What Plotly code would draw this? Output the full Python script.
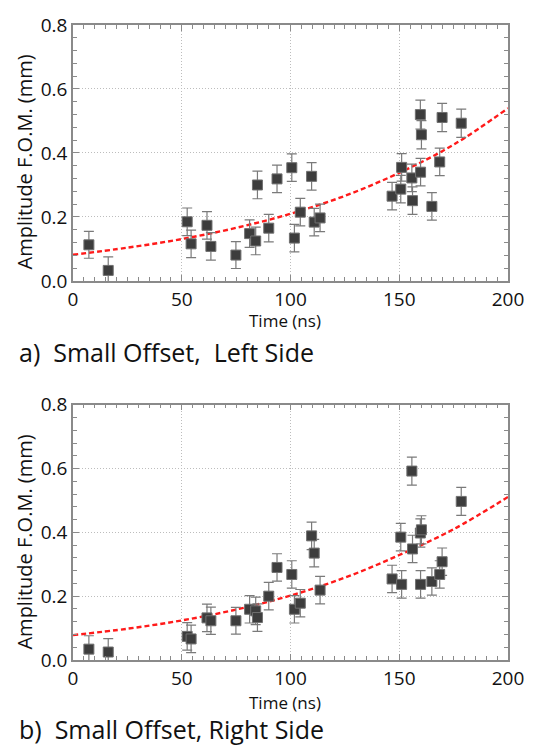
import plotly.graph_objects as go

# ---------------- data ----------------
time_ns = [7.3, 16.2, 52.5, 54.3, 61.6, 63.4, 74.9, 81.2, 84.0, 84.8,
           90.0, 93.8, 100.6, 101.8, 104.5, 109.7, 110.9, 113.6, 146.7, 150.7,
           151.1, 155.8, 156.1, 159.7, 160.2, 159.8, 165.0, 168.6, 169.7, 178.5]

left_amp = [0.113, 0.033, 0.185, 0.116, 0.174, 0.108, 0.081, 0.148, 0.125, 0.300,
            0.165, 0.319, 0.354, 0.134, 0.215, 0.327, 0.184, 0.197, 0.265, 0.287,
            0.355, 0.322, 0.251, 0.520, 0.457, 0.340, 0.233, 0.372, 0.511, 0.493]
left_err = [0.042, 0.042, 0.043, 0.043, 0.043, 0.043, 0.042, 0.043, 0.043, 0.043,
            0.043, 0.043, 0.043, 0.043, 0.043, 0.043, 0.043, 0.043, 0.043, 0.043,
            0.043, 0.043, 0.043, 0.045, 0.044, 0.043, 0.043, 0.043, 0.044, 0.044]

right_amp = [0.034, 0.025, 0.074, 0.066, 0.132, 0.123, 0.123, 0.159, 0.154, 0.133,
             0.200, 0.290, 0.268, 0.159, 0.178, 0.389, 0.335, 0.219, 0.254, 0.385,
             0.237, 0.592, 0.348, 0.398, 0.408, 0.237, 0.246, 0.268, 0.308, 0.497]
right_err = [0.042, 0.042, 0.043, 0.043, 0.043, 0.043, 0.042, 0.043, 0.043, 0.043,
             0.043, 0.043, 0.043, 0.043, 0.043, 0.043, 0.043, 0.043, 0.043, 0.043,
             0.043, 0.044, 0.043, 0.044, 0.044, 0.043, 0.043, 0.043, 0.043, 0.044]

fit_t = [0, 25, 50, 75, 100, 125, 150, 175, 200]
left_fit = [0.082, 0.104, 0.131, 0.166, 0.210, 0.266, 0.338, 0.426, 0.540]
right_fit = [0.078, 0.098, 0.124, 0.158, 0.202, 0.258, 0.329, 0.410, 0.511]

x_ticks = [0, 50, 100, 150, 200]
y_ticks = [0.0, 0.2, 0.4, 0.6, 0.8]
y_tick_text = ["0.0", "0.2", "0.4", "0.6", "0.8"]

captions = ["a)  Small Offset,  Left Side", "b)  Small Offset, Right Side"]
x_title = "Time (ns)"
y_title = "Amplitude F.O.M. (mm)"

# ---------------- styling ----------------
FONT = "Open Sans"
W, H = 536, 756
ML, MR, MT, MB = 73, 22, 15, 96
PW, PH = W - ML - MR, H - MT - MB


def px_x(x):
    return (x - ML) / PW


def px_y(y):
    return (H - MB - y) / PH


marker = dict(symbol="square", size=10, color="#3d3d3d",
              line=dict(color="#707070", width=1))

fig = go.Figure()
for i, (amp, err, fit) in enumerate([(left_amp, left_err, left_fit),
                                     (right_amp, right_err, right_fit)]):
    xa = "x" if i == 0 else "x2"
    ya = "y" if i == 0 else "y2"
    fig.add_trace(go.Scatter(
        x=fit_t, y=fit, mode="lines", line_shape="spline",
        line=dict(color="#ff1a1a", width=2.4, dash="5px,3px"),
        xaxis=xa, yaxis=ya, showlegend=False, hoverinfo="skip"))
    fig.add_trace(go.Scatter(
        x=time_ns, y=amp, mode="markers", marker=marker,
        error_y=dict(type="data", array=err, visible=True,
                     color="#7a7a7a", thickness=1.2, width=5),
        xaxis=xa, yaxis=ya, showlegend=False))

axis_common = dict(
    showline=True, linecolor="#8a8a8a", linewidth=1.5, mirror="ticks",
    ticks="inside", ticklen=6, tickwidth=1, tickcolor="#8a8a8a",
    showgrid=True, gridcolor="#bdbdbd", griddash="1px,2px", gridwidth=1,
    zeroline=False, tickfont=dict(family=FONT, size=19, color="#111"),
)
minor_x = dict(dtick=5, ticks="inside", ticklen=4, tickcolor="#8a8a8a", showgrid=False)
minor_y = dict(dtick=0.04, ticks="inside", ticklen=4, tickcolor="#8a8a8a", showgrid=False)

fig.update_layout(
    width=W, height=H, margin=dict(l=ML, r=MR, t=MT, b=MB),
    paper_bgcolor="white", plot_bgcolor="white",
    font=dict(family=FONT, color="#111"),
    xaxis=dict(domain=[0, 1], range=[0, 200], tickvals=x_ticks, anchor="y",
               minor=minor_x, **axis_common),
    yaxis=dict(domain=[px_y(275), 1], range=[0, 0.8], tickvals=y_ticks,
               ticktext=y_tick_text, anchor="x", minor=minor_y, **axis_common),
    xaxis2=dict(domain=[0, 1], range=[0, 200], tickvals=x_ticks, anchor="y2",
                minor=minor_x, **axis_common),
    yaxis2=dict(domain=[0, px_y(400.7)], range=[0, 0.8], tickvals=y_ticks,
                ticktext=y_tick_text, anchor="x2", minor=minor_y, **axis_common),
)

ann = []
# x-axis titles
for ymid in (315, 703):
    ann.append(dict(text=x_title, x=px_x(288), y=px_y(ymid), xref="paper", yref="paper",
                    xanchor="center", yanchor="middle", showarrow=False,
                    font=dict(family=FONT, size=17, color="#111")))
# y-axis titles
for ymid in (154, 540):
    ann.append(dict(text=y_title, x=px_x(24), y=px_y(ymid), xref="paper", yref="paper",
                    xanchor="center", yanchor="middle", textangle=-90, showarrow=False,
                    font=dict(family=FONT, size=20, color="#111")))
# captions
for cap, ymid in zip(captions, (347, 730)):
    ann.append(dict(text=cap, x=px_x(16), y=px_y(ymid), xref="paper", yref="paper",
                    xanchor="left", yanchor="middle", showarrow=False,
                    font=dict(family=FONT, size=25, color="#111")))
fig.update_layout(annotations=ann)

fig.write_html("out.html")
